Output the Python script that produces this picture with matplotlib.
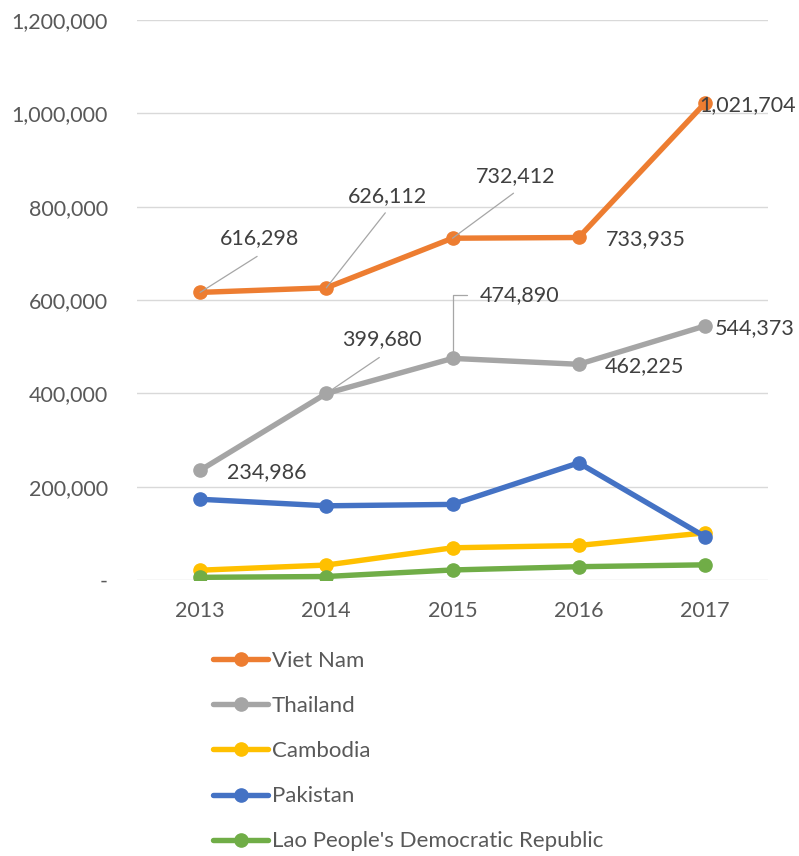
import matplotlib
matplotlib.use('Agg')
import matplotlib.pyplot as plt
from matplotlib.ticker import FuncFormatter, MultipleLocator

# ---- data ----
years = ['2013', '2014', '2015', '2016', '2017']
viet_nam = [616298, 626112, 732412, 733935, 1021704]
thailand = [234986, 399680, 474890, 462225, 544373]
cambodia = [21000, 32000, 69000, 74000, 101000]
pakistan = [173000, 159000, 162000, 251000, 93000]
lao = [5700, 7500, 21500, 28500, 32500]

series_names = ['Viet Nam', 'Thailand', 'Cambodia', 'Pakistan', "Lao People's Democratic Republic"]
series_values = [viet_nam, thailand, cambodia, pakistan, lao]
colors = ['#ED7D31', '#A5A5A5', '#FFC000', '#4472C4', '#70AD47']

# label layout: (text offset px, leader end offset px or None, leader style)
viet_layout = [((59, 54), (57, 36), 'straight'),
               ((61, 92), (59, 75), 'straight'),
               ((63, 62), (61, 45), 'straight'),
               ((67, -2), None, None),
               ((43, -2), None, None)]
thai_layout = [((67, -2), None, None),
               ((56, 54), (53, 36), 'straight'),
               ((67, 63), (14, 63), 'elbow'),
               ((66, -2), None, None),
               ((50, -2), None, None)]

FONT = ['Lato', 'DejaVu Sans']
plt.rcParams['font.family'] = FONT

W, H = 799, 856
fig = plt.figure(figsize=(W / 100, H / 100), dpi=100)
ax = fig.add_axes([137 / W, 1 - 580 / H, 631 / W, 560 / H])

x = list(range(len(years)))
lines = []
for name, vals, c in zip(series_names, series_values, colors):
    ln, = ax.plot(x, vals, color=c, lw=3.9, marker='o', markersize=9.5,
                  solid_capstyle='round', label=name, zorder=3)
    lines.append(ln)

ax.set_xlim(-0.5, len(years) - 0.5)
ax.set_ylim(0, 1200000)
ax.yaxis.set_major_locator(MultipleLocator(200000))
ax.yaxis.set_major_formatter(FuncFormatter(lambda v, p: '-' if v == 0 else f'{int(v):,}'))
ax.set_xticks(x)
ax.set_xticklabels(years)
ax.grid(axis='y', color='#D9D9D9', lw=1.0, zorder=0)
ax.set_axisbelow(True)
for s in ax.spines.values():
    s.set_visible(False)
ax.tick_params(axis='both', length=0, labelsize=15.5, colors='#595959')
ax.tick_params(axis='y', pad=21)
ax.tick_params(axis='x', pad=15)

def add_labels(vals, layout):
    for i, (v, (toff, loff, style)) in enumerate(zip(vals, layout)):
        ax.annotate(f'{v:,}', xy=(i, v), xytext=toff, textcoords='offset pixels',
                    ha='center', va='center', fontsize=15.5, color='#404040', zorder=5)
        if loff is not None:
            cs = 'arc3' if style == 'straight' else 'angle,angleA=0,angleB=90,rad=0'
            ax.annotate('', xy=(i, v), xytext=loff, textcoords='offset pixels',
                        arrowprops=dict(arrowstyle='-', color='#A6A6A6', lw=0.9,
                                        shrinkA=0, shrinkB=0, connectionstyle=cs),
                        zorder=4)

add_labels(viet_nam, viet_layout)
add_labels(thailand, thai_layout)

leg = fig.legend(handles=lines, loc='upper left',
                 bbox_to_anchor=(213 / W, 1 - 651 / H), frameon=False,
                 borderpad=0, borderaxespad=0, fontsize=16, labelcolor='#595959',
                 handlelength=2.48, handletextpad=0.16, labelspacing=1.13)

fig.savefig('out.png', dpi=100)
